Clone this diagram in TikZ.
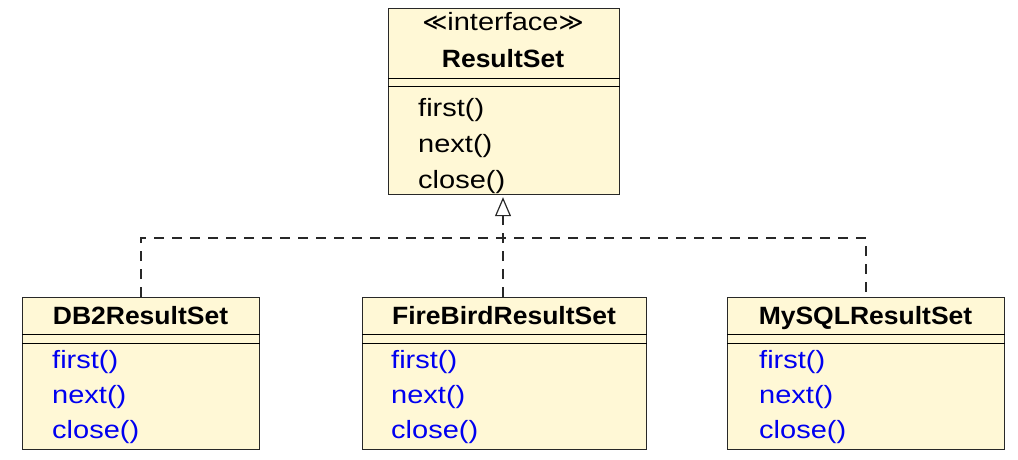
\documentclass[tikz,border=0pt]{standalone}
\usepackage{fontspec}
\setmainfont{Liberation Sans}[FakeStretch=1.16, BoldFeatures={FakeStretch=1.06}]
\newfontfamily\symfont{DejaVu Sans}
\usetikzlibrary{arrows.meta}
\definecolor{umlfill}{RGB}{255,248,214}
\definecolor{umlblue}{RGB}{0,0,240}
\definecolor{umlline}{RGB}{40,40,40}
\tikzset{
  classbox/.style={draw=umlline, line width=1.2pt, fill=umlfill, rectangle, anchor=north west, inner sep=0pt},
  divider/.style={draw=black, line width=1pt},
  txt/.style={inner sep=0pt, anchor=base west, font=\fontsize{25}{30}\selectfont},
  ttl/.style={inner sep=0pt, anchor=base, font=\fontsize{25}{30}\selectfont\bfseries},
  stereo/.style={inner sep=0pt, anchor=base, font=\fontsize{25}{30}\selectfont},
  meth/.style={txt, text=umlblue},
  realize/.style={draw=umlline, line width=1.2pt, dash pattern=on 10pt off 8pt},
}
\begin{document}
\begin{tikzpicture}[x=1pt,y=-1pt]
\useasboundingbox (0,0) rectangle (1018,460);
% top interface
\node[classbox, minimum width=231pt, minimum height=186pt] (rs) at (388,8) {};
\draw[divider] ([yshift=-71pt]rs.north west) -- ([yshift=-71pt]rs.north east);
\draw[divider] ([yshift=-79pt]rs.north west) -- ([yshift=-79pt]rs.north east);
\node[stereo] (st) at (503,31) {{\symfont\fontsize{24}{28}\selectfont ≪}interface{\symfont\fontsize{24}{28}\selectfont ≫}};
\node[ttl] (rsn) at (503,67) {ResultSet};
\node[txt] (rs1) at (418,116) {first()};
\node[txt] (rs2) at (418,152) {next()};
\node[txt] (rs3) at (418,188) {close()};
% bottom classes
\node[classbox, minimum width=237pt, minimum height=152pt] (db) at (22,297) {};
\node[classbox, minimum width=284pt, minimum height=152pt] (fb) at (362,297) {};
\node[classbox, minimum width=277pt, minimum height=152pt] (my) at (727,297) {};
\foreach \b in {db,fb,my}{
  \draw[divider] ([yshift=-37pt]\b.north west) -- ([yshift=-37pt]\b.north east);
  \draw[divider] ([yshift=-46pt]\b.north west) -- ([yshift=-46pt]\b.north east);
}
\node[ttl] (dbn) at (140.5,324) {DB2ResultSet};
\node[ttl] (fbn) at (504,324) {FireBirdResultSet};
\node[ttl] (myn) at (865.5,324) {MySQLResultSet};
\node[meth] (db1) at (52,368) {first()};
\node[meth] (db2) at (52,403) {next()};
\node[meth] (db3) at (52,438) {close()};
\node[meth] (fb1) at (391,368) {first()};
\node[meth] (fb2) at (391,403) {next()};
\node[meth] (fb3) at (391,438) {close()};
\node[meth] (my1) at (759,368) {first()};
\node[meth] (my2) at (759,403) {next()};
\node[meth] (my3) at (759,438) {close()};
% realization connectors
\coordinate (join) at (503,238);
\draw[realize] (db.north -| 141,0) |- (join) -| (my.north -| 866,0);
\draw[realize, -{Triangle[open, length=19pt, width=16pt, line width=1.2pt]}] (fb.north -| 503,0) -- ([yshift=-2pt]rs.south -| 503,0);
\end{tikzpicture}
\end{document}
